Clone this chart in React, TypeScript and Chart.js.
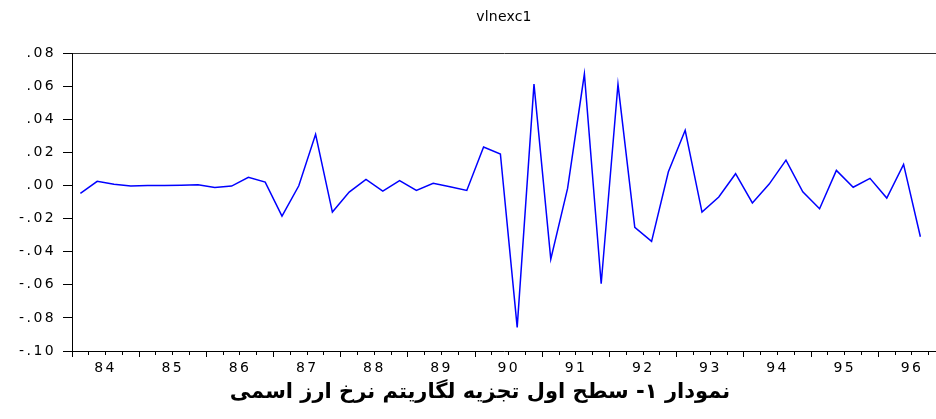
import React, { useEffect, useRef } from "react";
import { Chart, registerables } from "chart.js";

Chart.register(...registerables);

const title = "vlnexc1";
const caption = "نمودار ۱- سطح اول تجزیه لگاریتم نرخ ارز اسمی";
const years = ["84", "85", "86", "87", "88", "89", "90", "91", "92", "93", "94", "95", "96"];
const values = [
  -0.0048, 0.0025, 0.0007, -0.0004, 0.0, 0.0, 0.0001, 0.0004, -0.0012, -0.0004,
  0.0049, 0.002, -0.0185, -0.0002, 0.0309, -0.0161, -0.004, 0.0037, -0.0034, 0.0029,
  -0.003, 0.0013, -0.0008, -0.003, 0.0232, 0.019, -0.0857, 0.0612, -0.0446, -0.0018,
  0.0673, -0.0594, 0.0611, -0.0253, -0.0338, 0.0083, 0.0333, -0.0161, -0.007, 0.0071,
  -0.0106, 0.0008, 0.0153, -0.0038, -0.0141, 0.0091, -0.0011, 0.0043, -0.0076, 0.0127,
  -0.031,
];
const yMin = -0.1;
const yMax = 0.08;
const yStep = 0.02;
const xMax = 51.43;

const fmtY = (v: number) => {
  const s = Math.abs(v).toFixed(2).replace(/^0/, "");
  return (v < -1e-9 ? "-" : "") + s;
};

const spacingPlugin = {
  id: "spacingPlugin",
  beforeDraw(chart: any) {
    chart.ctx.letterSpacing = "0.2px";
  },
  afterDatasetsDraw(chart: any) {
    chart.ctx.letterSpacing = "2.4px";
  },
  afterDraw(chart: any) {
    chart.ctx.letterSpacing = "0px";
  },
};

export default function App() {
  const ref = useRef<HTMLCanvasElement | null>(null);
  useEffect(() => {
    if (!ref.current) return;
    Chart.defaults.font.family = "'DejaVu Sans', sans-serif";
    Chart.defaults.font.size = 14;
    Chart.defaults.color = "#000";
    const chart = new Chart(ref.current, {
      type: "line",
      data: {
        datasets: [
          {
            data: values.map((v, i) => ({ x: i + 0.5, y: v })),
            borderColor: "#0000ff",
            borderWidth: 1.5,
            pointRadius: 0,
            tension: 0,
            fill: false,
          },
        ],
      },
      plugins: [spacingPlugin],
      options: {
        animation: false,
        responsive: false,
        layout: { padding: { top: 0, left: 0, right: 0, bottom: 33 } },
        plugins: {
          legend: { display: false },
          tooltip: { enabled: false },
          title: {
            display: true,
            text: title,
            color: "#000",
            fullSize: false,
            font: { size: 14, weight: "normal" },
            padding: { top: 9, bottom: 27.2 },
          },
        },
        scales: {
          x: {
            type: "linear",
            position: "bottom",
            min: 0,
            max: xMax,
            afterBuildTicks: (scale: any) => {
              scale.ticks = Array.from({ length: Math.floor(xMax) + 1 }, (_, i) => ({ value: i }));
            },
            afterFit: (scale: any) => {
              scale.height = 35;
            },
            ticks: {
              z: 1,
              autoSkip: false,
              maxRotation: 0,
              minRotation: 0,
              padding: 3,
              color: "#000",
              callback: (value: any) => {
                const v = Math.round(Number(value));
                return v % 4 === 2 ? years[Math.floor(v / 4)] ?? "" : "";
              },
            },
            grid: {
              display: true,
              drawOnChartArea: false,
              drawTicks: true,
              tickLength: 6,
              tickColor: "#000",
              tickWidth: 1,
              tickBorderDash: (ctx: any) =>
                ctx.tick && Math.round(ctx.tick.value) % 4 === 0 ? [] : [3, 20],
            },
            border: { display: true, color: "#000", width: 1 },
          },
          x2: {
            type: "linear",
            position: "top",
            min: 0,
            max: xMax,
            ticks: { display: false },
            grid: { display: false, drawTicks: false },
            border: { display: true, color: "#333", width: 1 },
          },
          y: {
            type: "linear",
            min: yMin,
            max: yMax,
            afterFit: (scale: any) => {
              scale.width = 72;
            },
            ticks: {
              z: 1,
              stepSize: yStep,
              padding: 7,
              color: "#000",
              callback: (value: any) => fmtY(Number(value)),
            },
            grid: {
              display: true,
              drawOnChartArea: false,
              drawTicks: true,
              tickLength: 9,
              tickColor: "#000",
            },
            border: { display: true, color: "#000", width: 1 },
          },
        },
      } as any,
    });
    return () => chart.destroy();
  }, []);

  return (
    <div style={{ position: "fixed", left: 0, top: 0, width: 936, height: 419, background: "#fff" }}>
      <canvas ref={ref} width={936} height={419} style={{ width: 936, height: 419, display: "block" }} />
      <div
        dir="rtl"
        style={{
          position: "absolute",
          left: 24,
          top: 376,
          width: 912,
          textAlign: "center",
          fontFamily: "'DejaVu Sans', sans-serif",
          fontWeight: "bold",
          fontSize: 21,
          lineHeight: "30px",
          color: "#000",
        }}
      >
        {caption}
      </div>
    </div>
  );
}
